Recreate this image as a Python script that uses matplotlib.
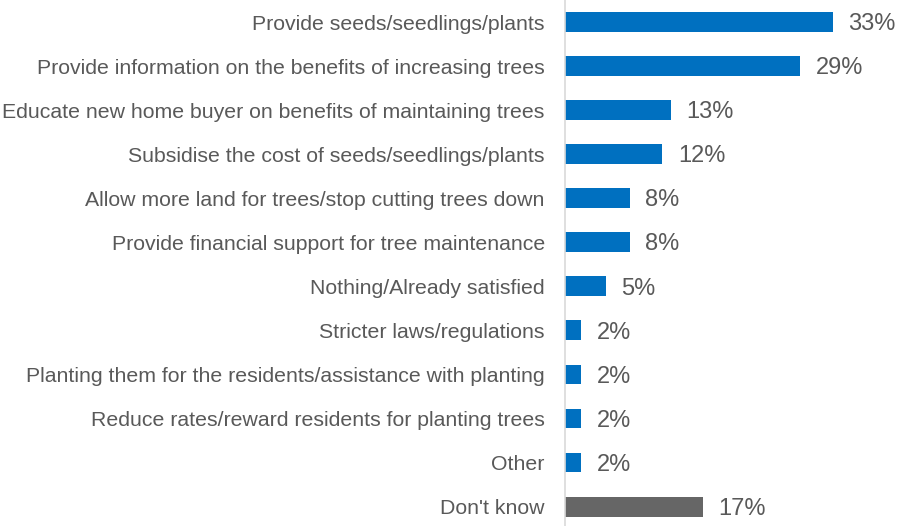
import matplotlib.pyplot as plt

categories = [
    "Provide seeds/seedlings/plants",
    "Provide information on the benefits of increasing trees",
    "Educate new home buyer on benefits of maintaining trees",
    "Subsidise the cost of seeds/seedlings/plants",
    "Allow more land for trees/stop cutting trees down",
    "Provide financial support for tree maintenance",
    "Nothing/Already satisfied",
    "Stricter laws/regulations",
    "Planting them for the residents/assistance with planting",
    "Reduce rates/reward residents for planting trees",
    "Other",
    "Don't know",
]
values = [33, 29, 13, 12, 8, 8, 5, 2, 2, 2, 2, 17]
colors = ["#0070C0"] * 11 + ["#666666"]

plt.rcParams["font.family"] = ["Liberation Sans", "DejaVu Sans"]

fig = plt.figure(figsize=(9.22, 5.26), dpi=100)
ax = fig.add_axes([565 / 922, 0, (922 - 565) / 922, 1])

ypos = list(range(len(categories)))
ax.barh(ypos, values, height=0.45, color=colors)

for y, v in zip(ypos, values):
    ax.text(v + 1.9, y + 0.05, f"{v}%", va="center", ha="left", fontsize=17, color="#595959")

ax.set_xlim(0, 357 / 8.12)
ax.set_ylim(11.44, -0.5)
ax.set_yticks(ypos)
ax.set_yticklabels(categories, fontsize=15.3, color="#595959")
ax.tick_params(axis="y", length=0, pad=14.5)
ax.set_xticks([])

for s in ["top", "right", "bottom"]:
    ax.spines[s].set_visible(False)
ax.spines["left"].set_color("#D9D9D9")
ax.spines["left"].set_linewidth(1.2)

fig.savefig("out.png", dpi=100)
